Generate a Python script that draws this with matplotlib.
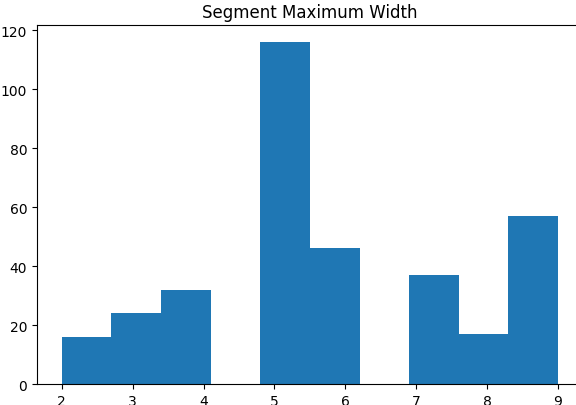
import numpy as np
import matplotlib.pyplot as plt

# histogram of segment max widths, 10 bins between 2 and 9
bin_edges = np.linspace(2, 9, 11)
counts = [16, 24, 32, 0, 116, 46, 0, 37, 17, 57]

fig = plt.figure(figsize=(5.76, 4.06), dpi=100)
ax = fig.add_axes([0.0642, 0.0517, 0.9476, 0.8842])
ax.hist(bin_edges[:-1], bins=bin_edges, weights=counts)
ax.set_title("Segment Maximum Width")

fig.savefig("out.png", dpi=100)
